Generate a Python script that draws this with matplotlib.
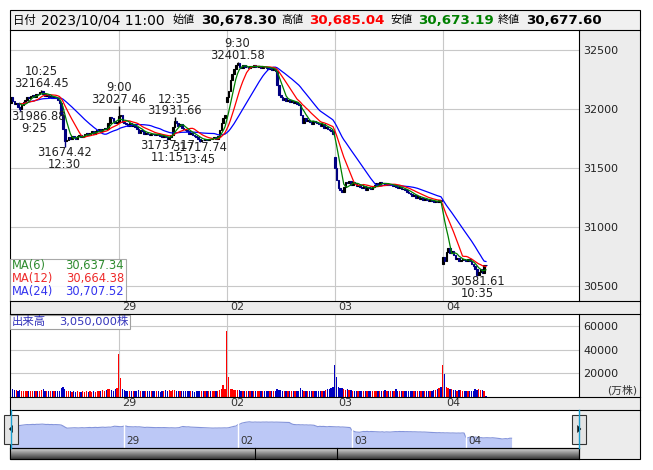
import numpy as np
import pandas as pd
import matplotlib
matplotlib.use("Agg")
import matplotlib.pyplot as plt
from matplotlib.patches import Rectangle, Polygon

plt.rcParams['font.family'] = ['DejaVu Sans', 'Noto Sans CJK JP']

# ---------------- data ----------------
day_labels = ["28", "29", "02", "03", "04"]
day_opens = [32050.0, 31890.0, 32060.0, 31590.0, 30690.0]

close_0928 = [32100, 32070, 32040, 32050, 32020, 32000, 32030, 32060, 32080, 32100,
              32090, 32110, 32120, 32105, 32130, 32125, 32140, 32150, 32130, 32110,
              32120, 32100, 32110, 32090, 32100, 32095, 32080, 32050, 31950, 31830,
              31730, 31740, 31760, 31750, 31770, 31760, 31750, 31770, 31780, 31760,
              31770, 31790, 31800, 31780, 31800, 31810, 31790, 31810, 31820, 31830,
              31810, 31830, 31840, 31830, 31880, 31930, 31920, 31900, 31880, 31890]
close_0929 = [31940, 31950, 31890, 31880, 31870, 31860, 31880, 31860, 31870, 31850,
              31830, 31800, 31820, 31810, 31790, 31800, 31790, 31780, 31790, 31785,
              31780, 31790, 31780, 31770, 31760, 31770, 31760, 31750, 31760, 31780,
              31850, 31900, 31880, 31860, 31870, 31840, 31830, 31820, 31810, 31790,
              31800, 31780, 31770, 31760, 31750, 31730, 31740, 31735, 31745, 31740,
              31750, 31745, 31755, 31760, 31750, 31770, 31820, 31880, 31920, 31950]
close_1002 = [32100, 32150, 32250, 32300, 32340, 32370, 32390, 32360, 32350, 32370,
              32355, 32360, 32350, 32365, 32360, 32370, 32355, 32360, 32365, 32350,
              32360, 32355, 32350, 32340, 32350, 32330, 32340, 32320, 32200, 32120,
              32100, 32080, 32090, 32070, 32080, 32060, 32070, 32050, 32060, 32040,
              32030, 31950, 31880, 31920, 31900, 31910, 31890, 31870, 31900, 31890,
              31880, 31870, 31860, 31870, 31840, 31850, 31830, 31820, 31810, 31790]
close_1003 = [31500, 31400, 31330, 31310, 31300, 31340, 31380, 31370, 31390, 31360,
              31380, 31370, 31350, 31360, 31340, 31330, 31350, 31310, 31340, 31330,
              31320, 31340, 31360, 31370, 31360, 31380, 31370, 31375, 31360, 31365,
              31355, 31360, 31345, 31350, 31340, 31330, 31335, 31320, 31325, 31310,
              31300, 31290, 31280, 31260, 31270, 31250, 31260, 31240, 31250, 31230,
              31240, 31230, 31220, 31230, 31220, 31210, 31220, 31210, 31230, 31220]
close_1004 = [30750, 30710, 30790, 30820, 30780, 30800, 30760, 30730, 30740, 30710,
              30720, 30730, 30720, 30710, 30730, 30710, 30690, 30670, 30640, 30596,
              30620, 30640, 30612, 30678.30, 30677.60]

vol_0928 = [17500, 6000, 5500, 5200, 5000, 5300, 5000, 4800, 5000, 4800,
            4700, 4600, 4700, 4500, 4400, 4600, 4800, 5900, 6300, 4700,
            4500, 4400, 4700, 4800, 4600, 4500, 4400, 4600, 7200, 7800,
            6400, 4600, 4400, 4300, 4200, 4300, 4200, 4300, 4200, 4200,
            4300, 4200, 4300, 4200, 4300, 4200, 4300, 4200, 4300, 4500,
            4800, 5600, 4600, 5200, 6000, 6400, 5500, 5000, 6200, 7600]
vol_0929 = [36300, 15800, 6400, 5500, 5000, 4800, 4600, 4500, 4400, 4500,
            4600, 5200, 4700, 4500, 4400, 4300, 4400, 4300, 4500, 4400,
            4300, 4400, 4300, 4200, 4300, 4400, 5200, 4600, 5600, 5000,
            5800, 5200, 4700, 4500, 4400, 4300, 4400, 4300, 4500, 4300,
            4400, 4300, 4200, 4300, 4400, 4300, 4500, 4300, 4400, 4300,
            4500, 4400, 4600, 4500, 4700, 5000, 5600, 6400, 9500, 6000]
vol_1002 = [56000, 16700, 6400, 6000, 5800, 5600, 5400, 5200, 5000, 4800,
            4700, 4600, 4500, 4600, 4400, 4500, 4400, 4300, 4400, 4300,
            4500, 4400, 4300, 4400, 4500, 4300, 4400, 4800, 6400, 5600,
            5200, 4800, 4700, 4600, 4500, 4400, 4600, 4500, 4400, 4300,
            4600, 7500, 5200, 4800, 4600, 4500, 4400, 4500, 4700, 4600,
            4500, 4400, 4600, 4800, 5000, 5500, 6000, 6400, 7000, 8200]
vol_1003 = [26900, 16700, 8200, 7600, 7000, 6400, 5800, 6000, 5500, 5200,
            5000, 4800, 4700, 4600, 4500, 4700, 4500, 4400, 4500, 4400,
            4300, 4400, 4300, 4400, 4500, 4300, 4400, 4300, 5500, 5000,
            4600, 4500, 4400, 4300, 6200, 4800, 4500, 4400, 4600, 4400,
            4500, 4400, 4300, 4400, 4500, 4600, 4400, 4300, 4500, 4400,
            4600, 4500, 4700, 4800, 5000, 5400, 5800, 6400, 7000, 8000]
vol_1004 = [26900, 19200, 8500, 7000, 6400, 6000, 5600, 5200, 5000, 5400,
            5200, 4800, 4700, 4900, 4600, 4500, 4600, 4700, 6000, 5800,
            6400, 5600, 5400, 4600, 305]

ann_days = [0, 0, 0, 1, 1, 1, 1, 2, 4]
ann_times = ["10:25", "9:25", "12:30", "9:00", "11:15", "12:35", "13:45", "9:30", "10:35"]
ann_prices = [32164.45, 31986.88, 31674.42, 32027.46, 31737.17, 31931.66, 31717.74, 32401.58, 30581.61]
ann_kinds = ["high", "low", "low", "high", "low", "high", "low", "high", "low"]

ma_periods = [6, 12, 24]
ma_last = [30637.34, 30664.38, 30707.52]
ma_line_colors = ["#008000", "#FF0000", "#0000FF"]
ma_text_colors = ["#2E8B2E", "#EE2a2a", "#3333EE"]

header_date = "2023/10/04 11:00"
header_open = 30678.30
header_high = 30685.04
header_low = 30673.19
header_close = 30677.60

price_ticks = [30500, 31000, 31500, 32000, 32500]
vol_ticks = [20000, 40000, 60000]

# ---------------- build series ----------------
day_closes = [close_0928, close_0929, close_1002, close_1003, close_1004]
day_vols = [vol_0928, vol_0929, vol_1002, vol_1003, vol_1004]
closes = np.array(sum(day_closes, []), dtype=float)
vols = np.array(sum(day_vols, []), dtype=float)
n = len(closes)
day_start = np.cumsum([0] + [len(d) for d in day_closes[:-1]])
opens = np.r_[closes[0], closes[:-1]]
opens[day_start] = day_opens
up = closes >= opens
x = np.arange(n)


def bar_of(day, t):
    h, m = map(int, t.split(":"))
    mins = h * 60 + m
    k = (mins - 540) // 5 if mins < 750 else 30 + (mins - 750) // 5
    return day_start[day] + k


W, H = 653, 470


def R(l, t, r, b):
    return [l / W, 1 - b / H, (r - l) / W, (b - t) / H]


fig = plt.figure(figsize=(W / 100, H / 100), dpi=100)

# background layer
bg = fig.add_axes([0, 0, 1, 1], zorder=0)
bg.set_xlim(0, W)
bg.set_ylim(H, 0)
bg.axis("off")
GRAY = "#ECECEC"
bg.add_patch(Rectangle((10, 10), 630, 20, facecolor="#F0F0F0", edgecolor="none"))
bg.add_patch(Rectangle((579, 30), 61, 429, facecolor=GRAY, edgecolor="none"))
bg.add_patch(Rectangle((10, 301), 630, 13, facecolor=GRAY, edgecolor="none"))
bg.add_patch(Rectangle((10, 397), 630, 13, facecolor=GRAY, edgecolor="none"))

# header texts
CJK = ["Noto Sans CJK JP", "DejaVu Sans"]
hy = 20
bg.text(13, hy, "日付", family=CJK, fontsize=8.2, va="center", ha="left", color="#000")
bg.text(41, hy, header_date, fontsize=10, va="center", ha="left", color="#000")
pieces = [("始値", 173, header_open, 201, "#000000"),
          ("高値", 281, header_high, 309, "#FF0000"),
          ("安値", 390, header_low, 418, "#008000"),
          ("終値", 498, header_close, 526, "#000000")]
for lab, lx, val, vx, col in pieces:
    bg.text(lx, hy, lab, family=CJK, fontsize=8.0, va="center", ha="left", color="#000")
    bg.text(vx, hy, f"{val:,.2f}", fontsize=9.6, fontweight="bold", va="center", ha="left", color=col)

# ---------------- price axes ----------------
ax = fig.add_axes(R(10, 30, 579, 301), zorder=1)
ax.set_xlim(-0.44, 315.7)
ax.set_ylim(30372.9, 32669.5)
ax.set_axisbelow(True)
ax.grid(True, color="#C8C8C8", lw=0.8)
ax.yaxis.tick_right()
ax.set_yticks(price_ticks)
ax.set_yticklabels([str(v) for v in price_ticks])
ax.tick_params(axis="y", length=0, pad=3, labelsize=8, labelcolor="#222222")
ax.set_xticks(day_start[1:])
ax.tick_params(axis="x", length=0, labelbottom=False)
for sp in ax.spines.values():
    sp.set_visible(False)

cc = np.where(up, "#000000", "#000080")
ax.bar(x, np.abs(closes - opens), bottom=np.minimum(opens, closes), width=0.85,
       color=cc, edgecolor=cc, linewidth=0.8, zorder=2)

s = pd.Series(closes)
for p, col in list(zip(ma_periods, ma_line_colors))[::-1]:
    ma = s.rolling(p, min_periods=1).mean().values
    ax.plot(x[5:], ma[5:], color=col, lw=0.9, zorder=3)

texts = []
for d, t, pr, k in zip(ann_days, ann_times, ann_prices, ann_kinds):
    b = bar_of(d, t)
    edge = max(opens[b], closes[b]) if k == "high" else min(opens[b], closes[b])
    ax.vlines(b, min(edge, pr), max(edge, pr), color=cc[b], lw=1.0, zorder=2)
    o1, o2 = (6.5, 18) if k == "high" else (-5.5, -17.5)
    t1 = ax.annotate(f"{pr:.2f}", xy=(b, pr), xytext=(0, o1), textcoords="offset pixels",
                     ha="center", va="center", fontsize=8.3, color="#222222", annotation_clip=False, zorder=4)
    t2 = ax.annotate(t, xy=(b, pr), xytext=(0, o2), textcoords="offset pixels",
                     ha="center", va="center", fontsize=8.3, color="#222222", annotation_clip=False, zorder=4)
    texts.append((t1, t2, o1, o2))

for i, lab in zip(day_start[1:], day_labels[1:]):
    ax.annotate(lab, xy=(i, 0), xycoords=("data", "axes fraction"), xytext=(3, -6.5),
                textcoords="offset pixels", ha="left", va="center", fontsize=8, color="#333333",
                annotation_clip=False)

# ---------------- volume axes ----------------
vax = fig.add_axes(R(10, 314, 579, 397), zorder=1)
vax.set_xlim(-0.44, 315.7)
vax.set_ylim(-427, 70513)
vax.set_axisbelow(True)
vax.grid(True, color="#C8C8C8", lw=0.8)
vax.yaxis.tick_right()
vax.set_yticks(vol_ticks)
vax.set_yticklabels([str(v) for v in vol_ticks])
vax.tick_params(axis="y", length=0, pad=3, labelsize=8, labelcolor="#222222")
vax.set_xticks(day_start[1:])
vax.tick_params(axis="x", length=0, labelbottom=False)
for sp in vax.spines.values():
    sp.set_visible(False)
vax.bar(x, vols, width=0.75, color=np.where(up, "#FF0000", "#0000C0"), linewidth=0, zorder=2)
for i, lab in zip(day_start[1:], day_labels[1:]):
    vax.annotate(lab, xy=(i, 0), xycoords=("data", "axes fraction"), xytext=(3, -6.5),
                 textcoords="offset pixels", ha="left", va="center", fontsize=8, color="#333333",
                 annotation_clip=False)

# ---------------- scroll overview ----------------
sax = fig.add_axes(R(10, 410, 579, 448), zorder=1)
sax.set_xlim(0, 299.5)
sax.set_ylim(29660, 33620)
sax.axis("off")
sax.fill_between(x, closes, 29660, color="#BCC8F6", lw=0)
sax.plot(x, closes, color="#8494DA", lw=0.8)
for i, lab in zip(day_start[1:], day_labels[1:]):
    sax.axvline(i, color="white", lw=1)
    sax.annotate(lab, xy=(i, 0), xycoords=("data", "axes fraction"), xytext=(2, 7.5),
                 textcoords="offset pixels", ha="left", va="center", fontsize=7.5, color="#333333")

# ---------------- foreground overlays ----------------
fg = fig.add_axes([0, 0, 1, 1], zorder=10)
fg.set_xlim(0, W)
fg.set_ylim(H, 0)
fg.axis("off")
K = "#000000"
lw = 0.8
fg.add_patch(Rectangle((10, 10), 630, 449, fill=False, edgecolor=K, lw=lw))
for yy in [30, 301, 314, 397, 410]:
    fg.plot([10, 640], [yy, yy], color=K, lw=lw)
fg.plot([579, 579], [30, 301], color=K, lw=lw)
fg.plot([579, 579], [314, 397], color=K, lw=lw)
fg.plot([10, 579], [448, 448], color=K, lw=lw)
fg.plot([579, 579], [448, 459], color=K, lw=lw)
fg.plot([10.5, 10.5], [410, 448], color="#1AA0D0", lw=1)
fg.plot([579, 579], [410, 448], color="#1AA0D0", lw=1)

# dark scroll bar
grad = np.linspace(0, 1, 30).reshape(-1, 1)
fg.imshow(grad, extent=(10, 579, 459, 448), cmap=matplotlib.colors.LinearSegmentedColormap.from_list(
    "g", ["#D8D8D8", "#3A3A3A"]), aspect="auto", zorder=1)
for xx in [255, 337]:
    fg.plot([xx, xx], [448, 459], color=K, lw=lw)
fg.add_patch(Rectangle((10, 448), 569, 11, fill=False, edgecolor=K, lw=lw))

# buttons
for (l, r, tri) in [(4, 17.5, [(9.3, 429), (12.7, 425.5), (12.7, 432.5)]),
                    (572, 586, [(577.5, 425.5), (577.5, 432.5), (581, 429)])]:
    fg.add_patch(Rectangle((l, 415), r - l, 29, facecolor="#E4E4E4", edgecolor="#333333", lw=0.8))
    fg.add_patch(Polygon(tri, closed=True, facecolor=K, edgecolor=K, lw=0.3))

# MA legend box
fg.add_patch(Rectangle((10, 259), 116, 42, facecolor="white", edgecolor="#A0A0A0", lw=0.8, alpha=0.9))
for k_, (p, v, col) in enumerate(zip(ma_periods, ma_last, ma_text_colors)):
    yy = 266 + 12.8 * k_
    fg.text(12, yy, f"MA({p})", fontsize=8.3, color=col, va="center", ha="left")
    fg.text(124, yy, f"{v:,.2f}", fontsize=8.3, color=col, va="center", ha="right")

# volume label box
fg.add_patch(Rectangle((10, 315), 120, 14, facecolor="white", edgecolor="#A0A0A0", lw=0.8))
fg.text(12, 322, "出来高", family=CJK, fontsize=8.2, color="#3333BB", va="center", ha="left")
fg.text(129, 322, f"{int(vols[-1] * 10000):,}株", fontsize=8.2, color="#3333BB", va="center", ha="right")
fg.text(637, 390, "(万株)", fontsize=7.8, color="#333333", va="center", ha="right")

# clamp annotation labels inside the price axes
fig.canvas.draw()
axbb = ax.get_window_extent()
for t1, t2, o1, o2 in texts:
    bb = t1.get_window_extent()
    if bb.x0 < axbb.x0 + 1:
        sh = axbb.x0 + 1 - bb.x0
        t1.set_position((sh, o1))
        t2.set_position((sh - 4, o2))

fig.savefig("out.png", dpi=100)
